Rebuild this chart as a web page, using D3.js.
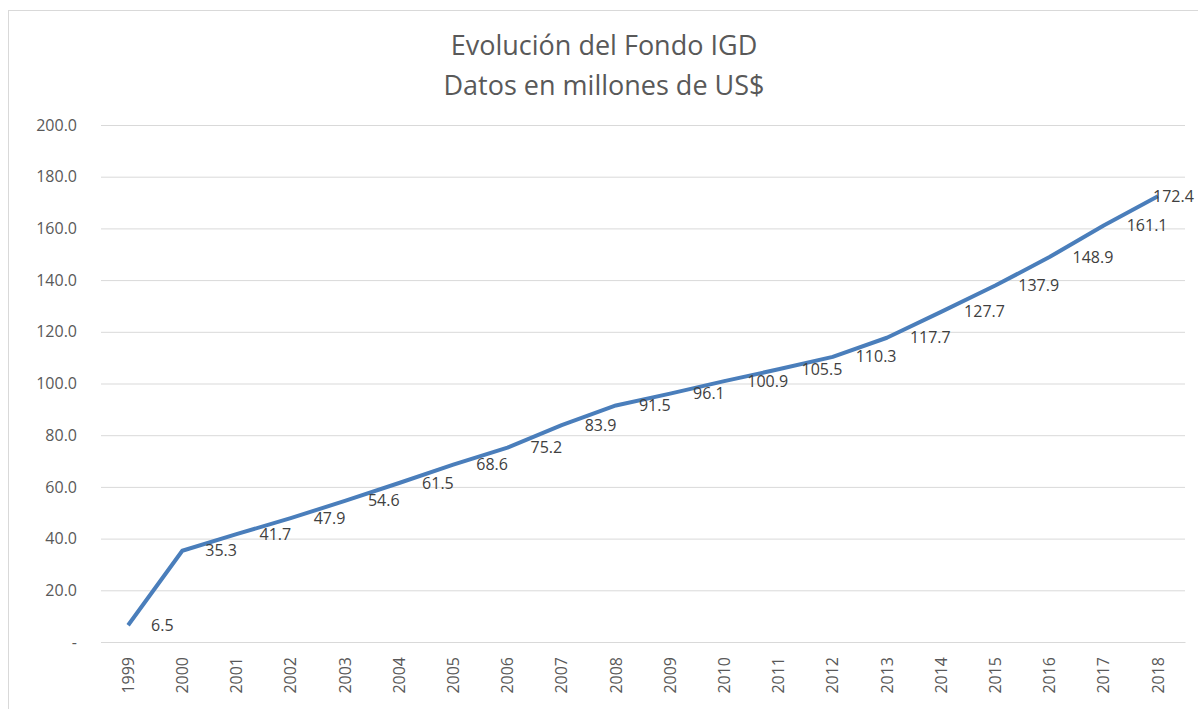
<!DOCTYPE html>
<html>
<head>
<meta charset="utf-8">
<script src="https://cdn.jsdelivr.net/npm/d3@7"></script>
<style>
	body { margin: 0; background: #fff; }
	text { font-family: "Open Sans", "Noto Sans", sans-serif; }
</style>
</head>
<body>
<svg id="chart" width="1198" height="709"></svg>
<script>

var years = ["1999", "2000", "2001", "2002", "2003", "2004", "2005", "2006", "2007", "2008",
	"2009", "2010", "2011", "2012", "2013", "2014", "2015", "2016", "2017", "2018"];

var fondo = [6.5, 35.3, 41.7, 47.9, 54.6, 61.5, 68.6, 75.2, 83.9, 91.5,
	96.1, 100.9, 105.5, 110.3, 117.7, 127.7, 137.9, 148.9, 161.1, 172.4];

var yTicks = [0, 20, 40, 60, 80, 100, 120, 140, 160, 180, 200];

var titleLines = ["Evolución del Fondo IGD", "Datos en millones de US$"];

var svg = d3.select("#chart");

// frame of the chart
svg.append("rect")
	.attr("x", 8.5)
	.attr("y", 10.5)
	.attr("width", 1198)
	.attr("height", 709)
	.attr("fill", "none")
	.attr("stroke", "#d9d9d9");

var plotLeft = 101, plotRight = 1185, plotTop = 125, plotBottom = 642;

var x = d3.scaleBand()
	.domain(years)
	.range([plotLeft, plotRight]);

var y = d3.scaleLinear()
	.domain([0, 200])
	.range([plotBottom, plotTop]);

// title
svg.append("text")
	.attr("x", 604)
	.attr("y", 55)
	.attr("text-anchor", "middle")
	.attr("fill", "#595959")
	.style("font-size", "27px")
	.selectAll("tspan")
	.data(titleLines)
	.enter().append("tspan")
	.attr("x", 604)
	.attr("dy", function (d, i) { return i == 0 ? 0 : 40; })
	.text(function (d) { return d; });

// y axis with gridlines
var yAxis = svg.append("g")
	.attr("transform", "translate(" + plotLeft + ",0)")
	.call(d3.axisLeft(y)
		.tickValues(yTicks)
		.tickSize(-(plotRight - plotLeft))
		.tickPadding(24)
		.tickFormat(function (d) { return d == 0 ? "-" : d3.format(".1f")(d); }));

yAxis.select(".domain").remove();
yAxis.selectAll("line")
	.attr("stroke", "#d9d9d9")
	.attr("stroke-width", 1);
yAxis.selectAll("text")
	.attr("fill", "#595959")
	.style("font-size", "16px");

// x axis labels
var xAxis = svg.append("g")
	.attr("transform", "translate(0," + plotBottom + ")")
	.call(d3.axisBottom(x).tickSize(0).tickPadding(0));

xAxis.select(".domain")
	.attr("stroke", "#d9d9d9");

xAxis.selectAll("text")
	.attr("fill", "#595959")
	.style("font-size", "16px")
	.attr("text-anchor", "end")
	.attr("dy", "0.35em")
	.attr("transform", "translate(0,15) rotate(-90)")
	.attr("x", 0)
	.attr("y", 0);

// line
var line = d3.line()
	.x(function (d, i) { return x(years[i]) + x.bandwidth() / 2; })
	.y(function (d) { return y(d); });

svg.append("path")
	.datum(fondo)
	.attr("fill", "none")
	.attr("stroke", "#4a7ebb")
	.attr("stroke-width", 4)
	.attr("stroke-linejoin", "round")
	.attr("d", line);

// data labels
svg.append("g")
	.selectAll("text")
	.data(fondo)
	.enter().append("text")
	.attr("x", function (d, i) {
		var px = x(years[i]) + x.bandwidth() / 2 + 23;
		return Math.min(px, 1153);
	})
	.attr("y", function (d) { return y(d); })
	.attr("dy", "0.35em")
	.attr("fill", "#404040")
	.style("font-size", "16px")
	.text(function (d) { return d3.format(".1f")(d); });

</script>
</body>
</html>
